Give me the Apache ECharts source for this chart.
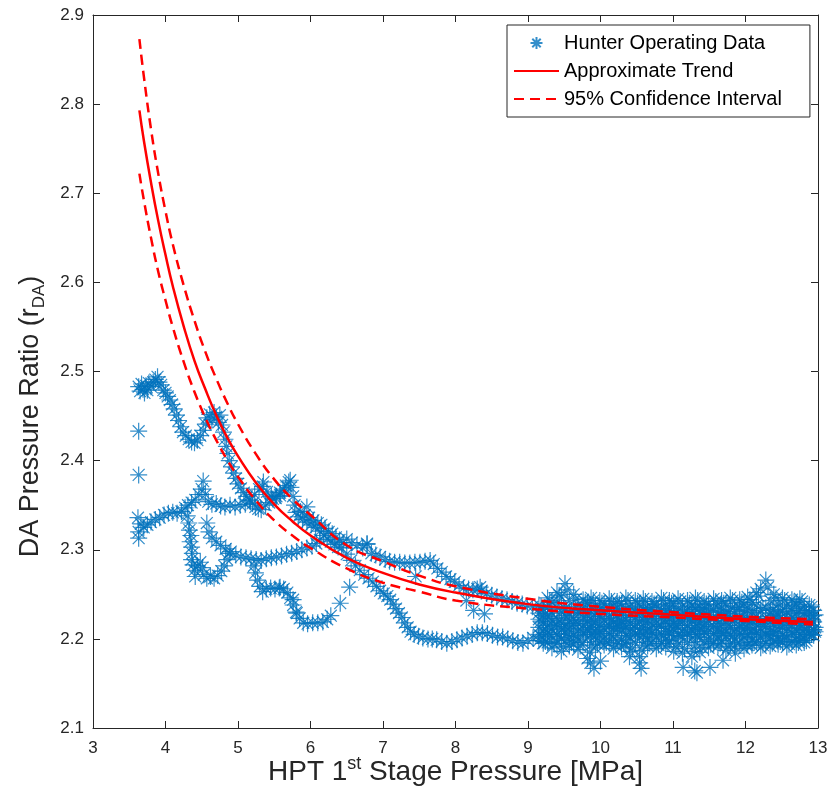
<!DOCTYPE html>
<html>
<head>
<meta charset="utf-8">
<script src="https://cdn.jsdelivr.net/npm/echarts@6/dist/echarts.min.js"></script>
<style>
  html, body { margin: 0; padding: 0; background: #fff; }
  #chart { width: 833px; height: 812px; }
</style>
</head>
<body>
<div id="chart"></div>
<script>
// Hunter operating data, traced by hand as a set of paths [MPa, rDA]
const pathA = [
  [3.63,2.483],[3.65,2.478],[3.67,2.486],[3.69,2.480],[3.71,2.476],[3.73,2.484],[3.75,2.479],[3.77,2.487],
  [3.80,2.483],[3.83,2.488],[3.86,2.491],[3.89,2.494],[3.91,2.488],[3.94,2.485],[3.97,2.479],[4.00,2.476],
  [4.03,2.472],[4.06,2.468],[4.09,2.463],[4.12,2.458],[4.15,2.451],[4.18,2.445],[4.21,2.438],[4.24,2.432],
  [4.28,2.428],[4.32,2.424],[4.36,2.421],[4.40,2.420],[4.44,2.423],[4.48,2.428],[4.52,2.434],[4.55,2.441],
  [4.57,2.448],[4.61,2.452],[4.64,2.446],[4.67,2.454],[4.70,2.449],[4.73,2.443],[4.75,2.451],[4.78,2.440],
  [4.80,2.432],[4.82,2.424],[4.84,2.416],[4.86,2.408],[4.88,2.400],[4.91,2.393],[4.94,2.386],[4.97,2.380],
  [5.00,2.374],[5.04,2.369],[5.08,2.364],[5.12,2.360],[5.16,2.356],[5.20,2.352],[5.24,2.348],[5.28,2.346],
  [5.32,2.345],[5.38,2.350],[5.43,2.353],[5.48,2.357],[5.53,2.360],[5.58,2.364],[5.62,2.368],[5.66,2.372],
  [5.70,2.376],[5.73,2.370],[5.76,2.360],[5.78,2.350],[5.80,2.342],[5.83,2.337],[5.86,2.343],[5.89,2.334],
  [5.92,2.339],[5.95,2.331],[5.98,2.336],[6.01,2.328],[6.04,2.333],[6.07,2.325],[6.10,2.330],[6.13,2.321],
  [6.15,2.328],[6.18,2.316],[6.20,2.324],[6.23,2.312],[6.25,2.320],[6.28,2.309],[6.30,2.318],[6.33,2.306],
  [6.35,2.314],[6.38,2.303],[6.40,2.311],[6.43,2.302],[6.45,2.308]
];
const pathB = [
  [3.62,2.336],[3.63,2.320],[3.63,2.313],[3.66,2.329],[3.70,2.325],[3.75,2.328],[3.80,2.331],[3.86,2.334],
  [3.92,2.336],[3.98,2.339],[4.04,2.341],[4.10,2.342],[4.16,2.341],[4.22,2.343],[4.27,2.347],[4.31,2.350],
  [4.36,2.353],[4.41,2.356],[4.46,2.362],[4.50,2.368],[4.52,2.377],[4.55,2.362],[4.59,2.354],[4.64,2.351],
  [4.70,2.352],[4.76,2.349],[4.82,2.348],[4.89,2.350],[4.96,2.348],[5.03,2.350],[5.10,2.351],[5.17,2.355],
  [5.23,2.362],[5.29,2.368],[5.34,2.371],[5.40,2.365],[5.46,2.360],[5.52,2.358],[5.58,2.361],[5.64,2.366],
  [5.72,2.378]
];
const pathC = [
  [4.30,2.338],[4.32,2.330],[4.33,2.322],[4.35,2.316],[4.34,2.309],[4.36,2.303],[4.37,2.296],[4.36,2.289],
  [4.38,2.283],[4.40,2.277],[4.41,2.270],[4.44,2.282],[4.48,2.286],[4.51,2.280],[4.53,2.272],[4.57,2.268],
  [4.62,2.270],[4.67,2.268],[4.72,2.271],[4.77,2.276],[4.81,2.282],[4.85,2.289],[4.88,2.296]
];
const pathD = [
  [4.57,2.330],[4.60,2.320],[4.64,2.313],[4.70,2.309],[4.76,2.305],[4.83,2.301],[4.90,2.298],[4.97,2.294],
  [5.04,2.292],[5.11,2.291],[5.18,2.290],[5.25,2.289],[5.32,2.288],[5.39,2.290],[5.46,2.291],[5.53,2.292],
  [5.60,2.293],[5.67,2.295],[5.74,2.296],[5.81,2.298],[5.88,2.300],[5.95,2.302],[6.02,2.304],[6.08,2.307],
  [6.13,2.311]
];
const pathE = [
  [5.22,2.282],[5.24,2.274],[5.27,2.266],[5.30,2.259],[5.34,2.253],[5.39,2.256],[5.45,2.257],[5.51,2.256],
  [5.57,2.257],[5.63,2.256],[5.68,2.252],[5.72,2.246],[5.76,2.238],[5.80,2.230],[5.85,2.223],[5.90,2.218],
  [5.96,2.217],[6.03,2.218],[6.10,2.218],[6.17,2.219],[6.23,2.222],[6.28,2.226],[6.41,2.240],[6.54,2.258]
];
const pathF = [
  [6.50,2.295],[6.56,2.288],[6.62,2.282],[6.68,2.277],[6.74,2.272],[6.80,2.268],[6.86,2.264],[6.91,2.259],
  [6.96,2.254],[7.01,2.251],[7.06,2.248],[7.10,2.244],[7.14,2.239],[7.18,2.234],[7.22,2.229],[7.26,2.224],
  [7.30,2.218],[7.34,2.213],[7.38,2.208],[7.43,2.205],[7.49,2.203],[7.55,2.201],[7.62,2.200],[7.68,2.200],
  [7.74,2.199],[7.81,2.197],[7.88,2.195],[7.95,2.197],[8.02,2.199],[8.09,2.201],[8.16,2.203],[8.23,2.205],
  [8.30,2.207],[8.37,2.207],[8.44,2.206],[8.51,2.204],[8.58,2.202],[8.65,2.202],[8.72,2.200],[8.79,2.198],
  [8.86,2.196],[8.93,2.195],[9.00,2.198],[9.07,2.201]
];
const pathG = [
  [6.50,2.312],[6.57,2.308],[6.64,2.305],[6.72,2.302],[6.78,2.306],[6.84,2.296],[6.90,2.294],[6.96,2.292],
  [7.03,2.289],[7.09,2.287],[7.16,2.286],[7.23,2.286],[7.30,2.285],[7.37,2.285],[7.44,2.286],[7.51,2.286],
  [7.58,2.287],[7.65,2.288],[7.70,2.284],[7.75,2.279],[7.81,2.275],[7.87,2.270],[7.93,2.267],[7.99,2.264],
  [8.05,2.260],[8.11,2.257],[8.18,2.256],[8.24,2.255],[8.30,2.256],[8.36,2.254],[8.43,2.251],[8.50,2.249],
  [8.57,2.247],[8.64,2.245],[8.71,2.244],[8.78,2.242],[8.85,2.240],[8.92,2.239],[8.99,2.237],[9.06,2.236]
];
const strays = [
  [3.63,2.433],[3.63,2.384],[5.95,2.348],[6.78,2.307],[8.15,2.243],[8.25,2.232],[8.40,2.228],
  [8.34,2.258],[7.45,2.270],[5.58,2.258],[5.76,2.244],[5.81,2.229],[5.35,2.376],
  [9.86,2.173],[9.91,2.167],[10.54,2.173],[10.56,2.167],[11.14,2.168],[11.30,2.164],[11.33,2.162],
  [11.51,2.168],[11.69,2.176],[11.86,2.184],[10.00,2.175],[10.40,2.180]
];

// dense band at high load: four staggered x rows, eighteen y rows
const bandXa = [9.15,9.27,9.40,9.51,9.63,9.76,9.87,9.99,10.12,10.23,10.35,10.48,10.59,10.71,10.84,10.95,
  11.07,11.20,11.31,11.43,11.56,11.67,11.79,11.92,12.03,12.15,12.28,12.39,12.51,12.64,12.75,12.88];
const bandXb = [9.21,9.33,9.46,9.57,9.69,9.82,9.93,10.05,10.18,10.29,10.41,10.54,10.65,10.77,10.90,11.01,
  11.13,11.26,11.37,11.49,11.62,11.73,11.85,11.98,12.09,12.21,12.34,12.45,12.57,12.70,12.81,12.94];
const bandXc = [9.18,9.30,9.43,9.54,9.66,9.79,9.90,10.02,10.15,10.26,10.38,10.51,10.62,10.74,10.87,10.98,
  11.10,11.23,11.34,11.46,11.59,11.70,11.82,11.95,12.06,12.18,12.31,12.42,12.54,12.67,12.78,12.91];
const bandXd = [9.24,9.36,9.49,9.60,9.72,9.85,9.96,10.08,10.21,10.32,10.44,10.57,10.68,10.80,10.93,11.04,
  11.16,11.29,11.40,11.52,11.65,11.76,11.88,12.01,12.12,12.24,12.37,12.48,12.60,12.73,12.84,12.96];
const band1 = [2.238,2.246,2.252,2.262,2.250,2.244,2.246,2.243,2.245,2.242,2.246,2.243,2.245,2.242,2.246,2.243,
  2.245,2.243,2.246,2.242,2.245,2.243,2.246,2.244,2.247,2.252,2.266,2.250,2.246,2.244,2.245,2.238];
const band2 = [2.233,2.241,2.247,2.243,2.238,2.240,2.236,2.239,2.237,2.240,2.236,2.238,2.235,2.239,2.237,2.240,
  2.236,2.238,2.235,2.239,2.237,2.240,2.236,2.239,2.241,2.256,2.243,2.239,2.237,2.239,2.236,2.232];
const band3 = [2.229,2.235,2.240,2.234,2.232,2.234,2.231,2.233,2.235,2.232,2.234,2.231,2.233,2.235,2.232,2.234,
  2.231,2.233,2.235,2.232,2.234,2.231,2.233,2.235,2.232,2.238,2.235,2.233,2.231,2.234,2.232,2.229];
const band4 = [2.226,2.229,2.231,2.228,2.230,2.227,2.229,2.231,2.228,2.230,2.227,2.229,2.231,2.228,2.230,2.227,
  2.229,2.231,2.228,2.230,2.227,2.229,2.231,2.228,2.230,2.232,2.229,2.227,2.230,2.228,2.229,2.226];
const band5 = [2.222,2.225,2.223,2.226,2.222,2.224,2.221,2.225,2.223,2.226,2.222,2.224,2.221,2.225,2.223,2.226,
  2.222,2.224,2.221,2.225,2.223,2.226,2.222,2.224,2.221,2.225,2.223,2.226,2.222,2.224,2.221,2.223];
const band6 = [2.218,2.220,2.218,2.221,2.217,2.220,2.218,2.221,2.219,2.220,2.217,2.219,2.221,2.218,2.220,2.217,
  2.219,2.221,2.218,2.220,2.217,2.219,2.221,2.218,2.220,2.217,2.219,2.221,2.218,2.220,2.217,2.219];
const band7 = [2.213,2.215,2.216,2.214,2.217,2.215,2.213,2.216,2.214,2.217,2.213,2.215,2.212,2.216,2.214,2.217,
  2.213,2.215,2.212,2.216,2.214,2.217,2.213,2.215,2.212,2.216,2.214,2.217,2.213,2.215,2.212,2.215];
const band8 = [2.209,2.211,2.210,2.212,2.209,2.211,2.208,2.210,2.212,2.209,2.211,2.208,2.210,2.212,2.209,2.211,
  2.208,2.210,2.212,2.209,2.211,2.208,2.210,2.212,2.209,2.211,2.208,2.210,2.212,2.209,2.211,2.210];
const band9 = [2.205,2.207,2.205,2.208,2.204,2.207,2.205,2.208,2.206,2.212,2.204,2.206,2.205,2.207,2.205,2.208,
  2.204,2.207,2.205,2.208,2.206,2.207,2.204,2.206,2.205,2.207,2.205,2.208,2.204,2.207,2.205,2.207];
const band10 = [2.201,2.203,2.200,2.202,2.199,2.201,2.203,2.200,2.202,2.199,2.201,2.203,2.200,2.202,2.199,2.201,
  2.203,2.200,2.202,2.199,2.201,2.203,2.200,2.202,2.199,2.201,2.203,2.200,2.202,2.199,2.201,2.204];
const band11 = [2.198,2.196,2.195,2.198,2.194,2.196,2.193,2.197,2.195,2.198,2.194,2.196,2.193,2.197,2.195,2.198,
  2.194,2.196,2.193,2.197,2.195,2.198,2.194,2.196,2.193,2.197,2.195,2.198,2.196,2.197,2.198,2.205];
const band12 = [2.195,2.190,2.186,2.192,2.188,2.178,2.190,2.193,2.189,2.191,2.186,2.180,2.192,2.189,2.191,2.186,
  2.184,2.180,2.185,2.190,2.192,2.187,2.191,2.189,2.193,2.190,2.192,2.194,2.191,2.193,2.196,2.210];
const band13 = [2.236,2.243,2.249,2.255,2.245,2.241,2.243,2.240,2.242,2.239,2.243,2.240,2.242,2.239,2.243,2.240,
  2.242,2.240,2.243,2.239,2.242,2.240,2.243,2.241,2.244,2.248,2.258,2.246,2.243,2.241,2.242,2.236];
const band14 = [2.228,2.233,2.236,2.232,2.230,2.232,2.229,2.231,2.233,2.230,2.232,2.229,2.231,2.233,2.230,2.232,
  2.229,2.231,2.233,2.230,2.232,2.229,2.231,2.233,2.230,2.234,2.232,2.231,2.229,2.232,2.230,2.227];
const band15 = [2.220,2.223,2.221,2.224,2.220,2.222,2.219,2.223,2.221,2.224,2.220,2.222,2.219,2.223,2.221,2.224,
  2.220,2.222,2.219,2.223,2.221,2.224,2.220,2.222,2.219,2.223,2.221,2.224,2.220,2.222,2.219,2.221];
const band16 = [2.211,2.214,2.212,2.215,2.211,2.213,2.210,2.214,2.212,2.215,2.211,2.213,2.210,2.214,2.212,2.215,
  2.211,2.213,2.210,2.214,2.212,2.215,2.211,2.213,2.210,2.214,2.212,2.215,2.211,2.213,2.210,2.213];
const band17 = [2.203,2.205,2.202,2.206,2.203,2.205,2.202,2.206,2.204,2.214,2.203,2.205,2.202,2.206,2.204,2.206,
  2.203,2.205,2.202,2.206,2.204,2.206,2.203,2.205,2.202,2.206,2.204,2.206,2.203,2.205,2.202,2.205];
const band18 = [2.197,2.194,2.191,2.196,2.192,2.185,2.194,2.196,2.193,2.195,2.190,2.187,2.195,2.193,2.195,2.191,
  2.189,2.186,2.190,2.194,2.195,2.191,2.195,2.193,2.196,2.193,2.195,2.197,2.194,2.196,2.198,2.208];

// fitted trend and 95% confidence bounds
const fitX     = [3.64,3.70,3.80,3.90,4.00,4.10,4.25,4.40,4.55,4.70,4.85,5.00,5.25,5.50,5.75,6.00,6.50,7.00,7.50,8.00,9.00,10.0,11.0,12.0,12.93];
const fitTrend = [2.793,2.760,2.712,2.669,2.631,2.596,2.551,2.512,2.480,2.451,2.426,2.405,2.375,2.351,2.332,2.316,2.291,2.274,2.261,2.252,2.239,2.232,2.227,2.222,2.219];
const fitUpper = [2.873,2.832,2.772,2.722,2.680,2.643,2.597,2.557,2.522,2.492,2.465,2.441,2.407,2.379,2.357,2.339,2.305,2.287,2.271,2.259,2.245,2.236,2.230,2.225,2.222];
const fitLower = [2.722,2.693,2.650,2.612,2.580,2.550,2.511,2.477,2.448,2.423,2.401,2.382,2.355,2.333,2.316,2.302,2.279,2.263,2.253,2.243,2.234,2.228,2.224,2.220,2.216];

const xTicks = [3, 13, 1];
const yTicks = [2.1, 2.9, 0.1];

const zip = (xs, ys) => xs.map((x, i) => [x, ys[i]]);
const bandRows = [
  [bandXa, band1], [bandXb, band2], [bandXa, band3], [bandXb, band4], [bandXa, band5], [bandXb, band6],
  [bandXa, band7], [bandXb, band8], [bandXa, band9], [bandXb, band10], [bandXa, band11], [bandXb, band12],
  [bandXc, band13], [bandXd, band14], [bandXc, band15], [bandXd, band16], [bandXc, band17], [bandXd, band18]
];
const scatterData = [].concat(pathA, pathB, pathC, pathD, pathE, pathF, pathG, strays);
bandRows.forEach(([xs, ys]) => scatterData.push(...zip(xs, ys)));

const BLUE = '#0072BD';
const RED = '#FF0000';
const AX = '#262626';
const FONT = 'Liberation Sans, Arial, sans-serif';
const STAR = 'path://M5,0L5,10M0,5L10,5M1.5,1.5L8.5,8.5M1.5,8.5L8.5,1.5';
const CLEAR = 'rgba(0,0,0,0)';

const chart = echarts.init(document.getElementById('chart'), null, { renderer: 'canvas' });

const axisCommon = {
  type: 'value',
  axisLine: { show: true, lineStyle: { color: AX, width: 1 } },
  axisTick: { show: true, inside: true, length: 7, lineStyle: { color: AX } },
  splitLine: { show: false }
};

chart.setOption({
  animation: false,
  backgroundColor: '#fff',
  textStyle: { fontFamily: FONT },
  grid: { left: 93, right: 15, top: 15, bottom: 84 },
  legend: {
    orient: 'vertical',
    left: 507, top: 25,
    padding: [8, 28, 8, 6],
    itemWidth: 45, itemHeight: 12, itemGap: 8,
    borderColor: AX, borderWidth: 1, backgroundColor: '#fff',
    selectedMode: false,
    textStyle: { fontSize: 20, lineHeight: 20, color: '#000', fontFamily: FONT },
    data: [
      { name: 'Hunter Operating Data', icon: STAR },
      'Approximate Trend',
      '95% Confidence Interval'
    ]
  },
  xAxis: [
    Object.assign({}, axisCommon, {
      min: xTicks[0], max: xTicks[1], interval: xTicks[2], position: 'bottom',
      axisLabel: { fontSize: 17, color: AX, margin: 12, fontFamily: FONT },
      name: 'HPT 1{sup|st} Stage Pressure [MPa]',
      nameLocation: 'middle', nameGap: 27, nameMoveOverlap: false,
      nameTextStyle: {
        fontSize: 28, color: AX, fontFamily: FONT, lineHeight: 34,
        rich: { sup: { fontSize: 18, verticalAlign: 'top', color: AX, fontFamily: FONT, lineHeight: 20 } }
      }
    }),
    Object.assign({}, axisCommon, {
      min: xTicks[0], max: xTicks[1], interval: xTicks[2], position: 'top',
      axisLabel: { show: false }
    })
  ],
  yAxis: [
    Object.assign({}, axisCommon, {
      min: yTicks[0], max: yTicks[1], interval: yTicks[2], position: 'left',
      axisLabel: { fontSize: 17, color: AX, margin: 9, fontFamily: FONT, formatter: v => v.toFixed(1) },
      name: 'DA Pressure Ratio (r{sub|DA})',
      nameLocation: 'middle', nameGap: 45, nameRotate: 90,
      nameTextStyle: {
        fontSize: 27, color: AX, fontFamily: FONT, lineHeight: 34,
        padding: [0, 90, 0, 0],
        rich: { sub: { fontSize: 17, verticalAlign: 'bottom', color: AX, fontFamily: FONT, lineHeight: 20 } }
      }
    }),
    Object.assign({}, axisCommon, {
      min: yTicks[0], max: yTicks[1], interval: yTicks[2], position: 'right',
      axisLabel: { show: false }
    })
  ],
  series: [
    {
      name: 'Hunter Operating Data',
      type: 'scatter',
      symbol: STAR,
      symbolSize: 17,
      itemStyle: { color: CLEAR, borderColor: BLUE, borderWidth: 1.2 },
      data: scatterData,
      z: 2
    },
    {
      name: 'Approximate Trend',
      type: 'line',
      symbol: 'none',
      smooth: true,
      lineStyle: { color: RED, width: 2.5 },
      itemStyle: { color: CLEAR, borderColor: CLEAR },
      data: zip(fitX, fitTrend),
      z: 3
    },
    {
      name: '95% Confidence Interval',
      type: 'line',
      symbol: 'none',
      smooth: true,
      lineStyle: { color: RED, width: 2.5, type: [10, 6] },
      itemStyle: { color: CLEAR, borderColor: CLEAR },
      data: zip(fitX, fitUpper),
      z: 3
    },
    {
      name: '95% Confidence Interval',
      type: 'line',
      symbol: 'none',
      smooth: true,
      lineStyle: { color: RED, width: 2.5, type: [10, 6] },
      itemStyle: { color: CLEAR, borderColor: CLEAR },
      data: zip(fitX, fitLower),
      z: 3
    }
  ]
});
</script>
</body>
</html>
